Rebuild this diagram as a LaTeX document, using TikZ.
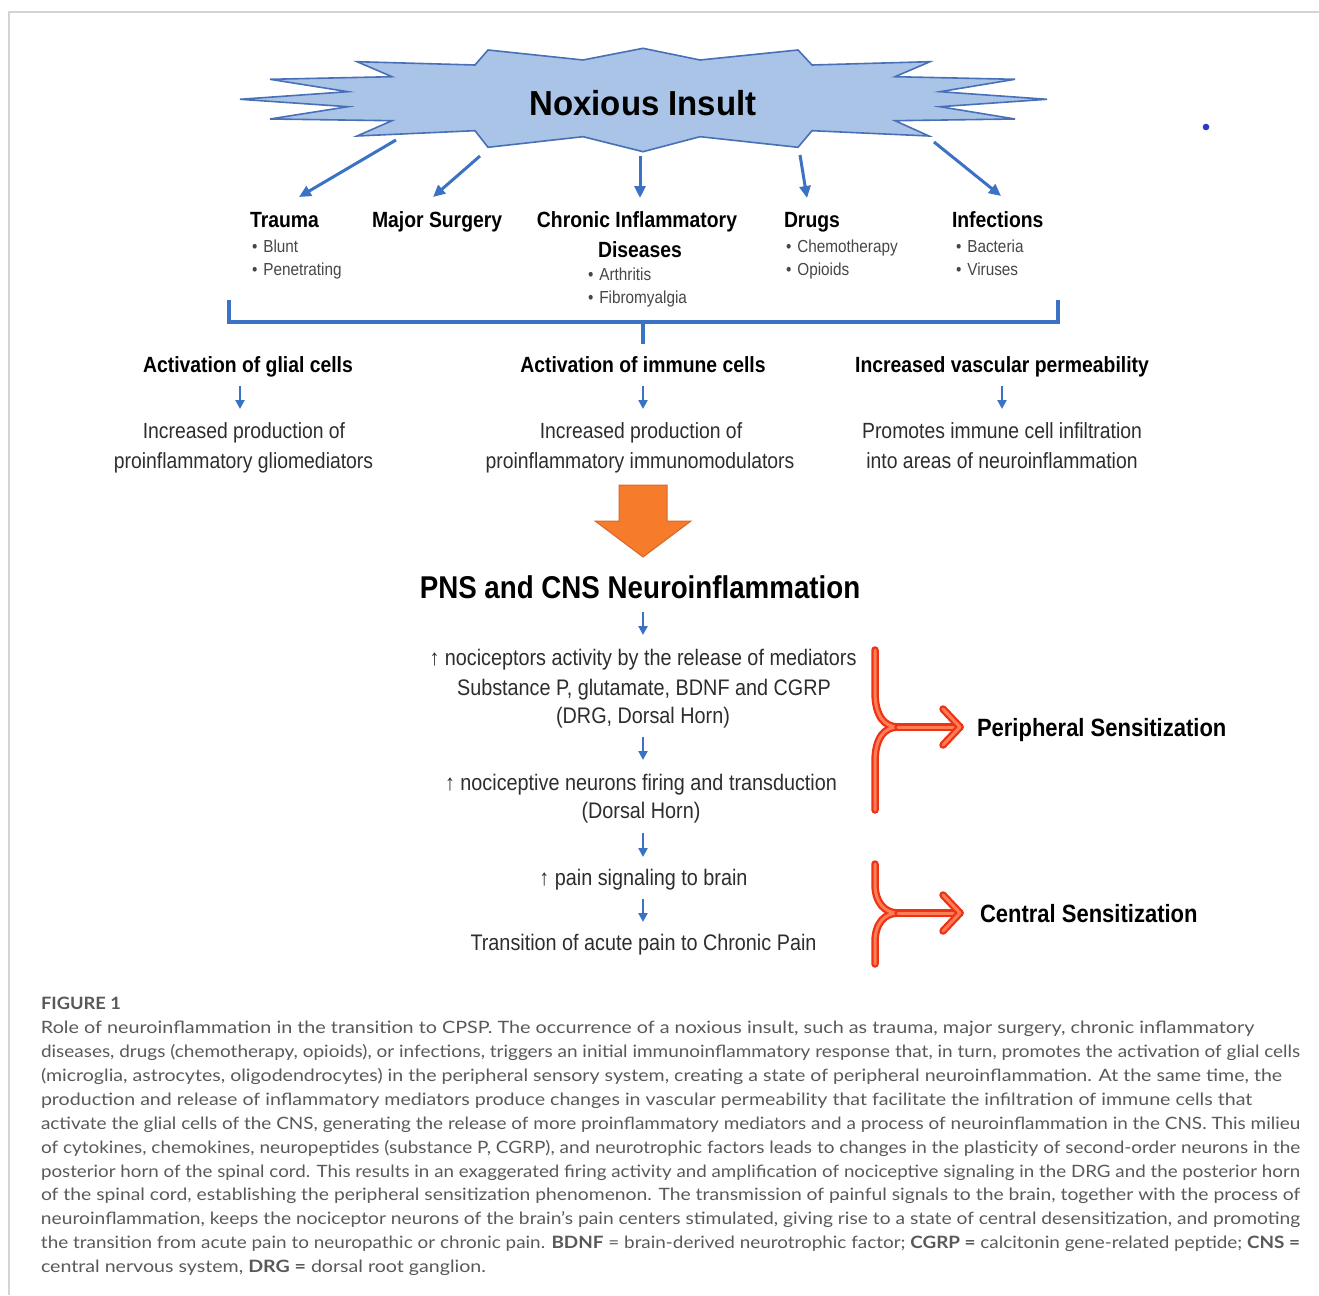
\documentclass[tikz,border=0pt]{standalone}
\usepackage{fontspec}
\usepackage{graphicx}
\setmainfont{Liberation Sans}
\newfontfamily\nf[FakeStretch=0.88]{Liberation Sans}
\newfontfamily\tf[FakeStretch=0.95]{Liberation Sans}
\newfontfamily\cf{Lato}
\usetikzlibrary{arrows.meta}
\definecolor{starfill}{RGB}{170,196,232}
\definecolor{starline}{RGB}{72,112,182}
\definecolor{arrowblue}{RGB}{58,114,196}
\definecolor{orangefill}{RGB}{246,124,44}
\definecolor{orangeline}{RGB}{214,104,44}
\definecolor{bracered}{RGB}{238,50,22}
\definecolor{braceinner}{RGB}{255,125,85}
\definecolor{bodygray}{RGB}{45,45,45}
\definecolor{bulletgray}{RGB}{70,70,70}
\definecolor{capgray}{RGB}{88,89,91}
\definecolor{framegray}{RGB}{212,212,212}
\definecolor{dotblue}{RGB}{40,60,200}
\begin{document}
\begin{tikzpicture}[x=1pt,y=-1pt,
  every node/.style={inner sep=0pt,outer sep=0pt},
  bigtitle/.style={font=\tf\bfseries\fontsize{34.7}{40}\selectfont},
  cathead/.style={font=\nf\bfseries\fontsize{22}{26}\selectfont, anchor=base west},
  bulletitem/.style={font=\nf\fontsize{17.4}{20}\selectfont, text=bulletgray, anchor=base west},
  acthead/.style={font=\nf\bfseries\fontsize{22}{26}\selectfont, anchor=base},
  bodytext/.style={font=\nf\fontsize{22}{26}\selectfont, text=bodygray, anchor=base},
  lowtext/.style={font=\nf\fontsize{22.5}{26}\selectfont, text=bodygray, anchor=base},
  midtitle/.style={font=\nf\bfseries\fontsize{31.5}{36}\selectfont, anchor=base},
  senslabel/.style={font=\nf\bfseries\fontsize{25}{30}\selectfont, anchor=base west},
  captext/.style={font=\cf\fontsize{17}{20}\selectfont, text=capgray, anchor=base west},
  bluearrow/.style={draw=arrowblue, line width=3pt, -{Triangle[length=12pt,width=11pt]}},
  smallarrow/.style={draw=arrowblue, line width=2.4pt, -{Triangle[length=9pt,width=9pt]}},
  bracketline/.style={draw=arrowblue, line width=3.5pt},
  sensebrace/.style={draw=bracered, line width=7.5pt, line cap=round, line join=round,
     postaction={draw=braceinner, line width=3pt, line cap=round, line join=round}},
]
\useasboundingbox (0,0) rectangle (1319,1295);
% frame
\draw[framegray, line width=1.2pt] (9,1295) -- (9,12) -- (1319,12);
% blue dot
\fill[dotblue] (1206,127) circle (3.3);

% star
\path[draw=starline, fill=starfill, line width=1.6pt, line join=miter]
 (240,99.3) -- (348,91.7) -- (270,79.3) -- (392,76.7) -- (357,61.7) -- (475,65) -- (488,50)
 -- (583,60) -- (643,48.3) -- (700,60) -- (798,50) -- (812,65) -- (930,61.7) -- (895,76.7)
 -- (1015,79.3) -- (940,91.7) -- (1047,99.3) -- (940,106.7) -- (1015,119) -- (895,120.7)
 -- (929,136) -- (812,130.7) -- (798,147.3) -- (700,136.7) -- (643,151.7) -- (583,136.7)
 -- (488,147.3) -- (475,130.7) -- (357,136) -- (392,120.7) -- (270,119) -- (348,106.7) -- cycle;
\node[bigtitle] (insult) at (643,103.5) {Noxious Insult};

% arrows from star
\coordinate (s1) at (396,140); \coordinate (t1) at (299,197);
\coordinate (s2) at (480,156); \coordinate (t2) at (433,197);
\coordinate (s3) at (640,156); \coordinate (t3) at (640,198);
\coordinate (s4) at (800,155); \coordinate (t4) at (807,198);
\coordinate (s5) at (934,142); \coordinate (t5) at (1001,196);
\draw[bluearrow] (s1) -- (t1);
\draw[bluearrow] (s2) -- (t2);
\draw[bluearrow] (s3) -- (t3);
\draw[bluearrow] (s4) -- (t4);
\draw[bluearrow] (s5) -- (t5);

% categories
\node[cathead] (trauma) at (250,227) {Trauma};
\node[cathead] (surgery) at (372,227) {Major Surgery};
\node[cathead, anchor=base] (chronic) at (637,227) {Chronic Inflammatory};
\node[cathead, anchor=base] (diseases) at (640,257) {Diseases};
\node[cathead] (drugs) at (784,227) {Drugs};
\node[cathead] (infections) at (952,227) {Infections};

\node[bulletitem] (blunt) at (252,252) {•\hspace{6pt}Blunt};
\node[bulletitem] (penetrating) at (252,275) {•\hspace{6pt}Penetrating};
\node[bulletitem] (arthritis) at (588,280) {•\hspace{6pt}Arthritis};
\node[bulletitem] (fibro) at (588,303) {•\hspace{6pt}Fibromyalgia};
\node[bulletitem] (chemo) at (786,252) {•\hspace{6pt}Chemotherapy};
\node[bulletitem] (opioids) at (786,275) {•\hspace{6pt}Opioids};
\node[bulletitem] (bacteria) at (956,252) {•\hspace{6pt}Bacteria};
\node[bulletitem] (viruses) at (956,275) {•\hspace{6pt}Viruses};

% bracket
\coordinate (bl) at (229,300); \coordinate (blc) at (229,322);
\coordinate (brc) at (1058,322); \coordinate (br) at (1058,300);
\coordinate (stemtop) at (643,322); \coordinate (stembot) at (643,344);
\draw[bracketline, line join=miter] (bl) -- (blc) -- (brc) -- (br);
\draw[bracketline] (stemtop) -- (stembot);

% activation row
\node[acthead] (glial) at (248,372) {Activation of glial cells};
\node[acthead] (immune) at (643,372) {Activation of immune cells};
\node[acthead] (vascular) at (1002,372) {Increased vascular permeability};
\coordinate (ga) at (240,386); \coordinate (gb) at (240,409);
\coordinate (ia) at (643,386); \coordinate (ib) at (643,409);
\coordinate (va) at (1002,386); \coordinate (vb) at (1002,409);
\draw[smallarrow] (ga) -- (gb);
\draw[smallarrow] (ia) -- (ib);
\draw[smallarrow] (va) -- (vb);

\node[bodytext] (gl1) at (244,438) {Increased production of};
\node[bodytext] (gl2) at (243.5,468) {proinflammatory gliomediators};
\node[bodytext] (im1) at (641,438) {Increased production of};
\node[bodytext] (im2) at (640,468) {proinflammatory immunomodulators};
\node[bodytext] (va1) at (1002,438) {Promotes immune cell infiltration};
\node[bodytext] (va2) at (1002,468) {into areas of neuroinflammation};

% orange block arrow
\path[fill=orangefill, draw=orangeline, line width=1pt, line join=miter]
  (619,485) -- (667,485) -- (667,521) -- (691,521) -- (643,557) -- (595,521) -- (619,521) -- cycle;

\node[midtitle] (pns) at (640,598) {PNS and CNS Neuroinflammation};
\coordinate (p0a) at (643,612); \coordinate (p0b) at (643,635);
\draw[smallarrow] (p0a) -- (p0b);

\node[lowtext] (l1) at (643,665) {↑ nociceptors activity by the release of mediators};
\node[lowtext] (l2) at (644,695) {Substance P, glutamate, BDNF and CGRP};
\node[lowtext] (l3) at (643,723) {(DRG, Dorsal Horn)};
\coordinate (p1a) at (643,737); \coordinate (p1b) at (643,760);
\draw[smallarrow] (p1a) -- (p1b);
\node[lowtext] (l4) at (641,790) {↑ nociceptive neurons firing and transduction};
\node[lowtext] (l5) at (641,818) {(Dorsal Horn)};
\coordinate (p2a) at (643,833); \coordinate (p2b) at (643,857);
\draw[smallarrow] (p2a) -- (p2b);
\node[lowtext] (l6) at (643.5,885) {↑ pain signaling to brain};
\coordinate (p3a) at (643,899); \coordinate (p3b) at (643,922);
\draw[smallarrow] (p3a) -- (p3b);
\node[lowtext] (l7) at (643.5,950) {Transition of acute pain to Chronic Pain};

% sensitization braces
\coordinate (b1top) at (875,650); \coordinate (b1bot) at (875,810);
\coordinate (b1mid) at (898,727); \coordinate (b1tip) at (960,727);
\coordinate (b1up) at (943,709); \coordinate (b1lo) at (943,745);
\draw[sensebrace] (b1top) -- (875,692) .. controls (875,717) and (885,727) .. (b1mid)
   .. controls (885,727) and (875,737) .. (875,762) -- (b1bot);
\draw[sensebrace] (b1mid) -- (b1tip);
\draw[sensebrace] (b1up) -- (b1tip) -- (b1lo);
\node[senslabel] (periph) at (977,736) {Peripheral Sensitization};

\coordinate (b2top) at (875,864); \coordinate (b2bot) at (875,964);
\coordinate (b2mid) at (898,913); \coordinate (b2tip) at (960,913);
\coordinate (b2up) at (943,895); \coordinate (b2lo) at (943,931);
\draw[sensebrace] (b2top) -- (875,884) .. controls (875,903) and (885,913) .. (b2mid)
   .. controls (885,913) and (875,923) .. (875,942) -- (b2bot);
\draw[sensebrace] (b2mid) -- (b2tip);
\draw[sensebrace] (b2up) -- (b2tip) -- (b2lo);
\node[senslabel] (central) at (980,922) {Central Sensitization};

% caption
\node[captext] (cap0) at (41,1009) {\resizebox{80pt}{\height}{\bfseries FIGURE 1}};
\node[captext] (cap1) at (41,1033) {\resizebox{1213pt}{\height}{Role of neuroinflammation in the transition to CPSP. The occurrence of a noxious insult, such as trauma, major surgery, chronic inflammatory}};
\node[captext] (cap2) at (41,1057) {\resizebox{1259pt}{\height}{diseases, drugs (chemotherapy, opioids), or infections, triggers an initial immunoinflammatory response that, in turn, promotes the activation of glial cells}};
\node[captext] (cap3) at (41,1081) {\resizebox{1241pt}{\height}{(microglia, astrocytes, oligodendrocytes) in the peripheral sensory system, creating a state of peripheral neuroinflammation. At the same time, the}};
\node[captext] (cap4) at (41,1105) {\resizebox{1211pt}{\height}{production and release of inflammatory mediators produce changes in vascular permeability that facilitate the infiltration of immune cells that}};
\node[captext] (cap5) at (41,1129) {\resizebox{1259pt}{\height}{activate the glial cells of the CNS, generating the release of more proinflammatory mediators and a process of neuroinflammation in the CNS. This milieu}};
\node[captext] (cap6) at (41,1153) {\resizebox{1259pt}{\height}{of cytokines, chemokines, neuropeptides (substance P, CGRP), and neurotrophic factors leads to changes in the plasticity of second-order neurons in the}};
\node[captext] (cap7) at (41,1177) {\resizebox{1259pt}{\height}{posterior horn of the spinal cord. This results in an exaggerated firing activity and amplification of nociceptive signaling in the DRG and the posterior horn}};
\node[captext] (cap8) at (41,1200) {\resizebox{1259pt}{\height}{of the spinal cord, establishing the peripheral sensitization phenomenon. The transmission of painful signals to the brain, together with the process of}};
\node[captext] (cap9) at (41,1224) {\resizebox{1259pt}{\height}{neuroinflammation, keeps the nociceptor neurons of the brain’s pain centers stimulated, giving rise to a state of central desensitization, and promoting}};
\node[captext] (cap10) at (41,1248) {\resizebox{1259pt}{\height}{the transition from acute pain to neuropathic or chronic pain. \textbf{BDNF} = brain-derived neurotrophic factor; \textbf{CGRP =} calcitonin gene-related peptide; \textbf{CNS =}}};
\node[captext] (cap11) at (41,1272) {\resizebox{445pt}{\height}{central nervous system, \textbf{DRG =} dorsal root ganglion.}};
\end{tikzpicture}
\end{document}
